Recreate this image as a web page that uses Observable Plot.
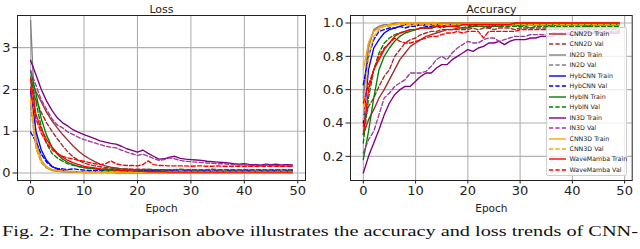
<!DOCTYPE html>
<html><head><meta charset="utf-8">
<script src="https://cdn.jsdelivr.net/npm/d3@7"></script>
<script src="https://cdn.jsdelivr.net/npm/@observablehq/plot@0.6"></script>
<style>
body{margin:0;background:#fff;}
#wrap{position:relative;width:640px;height:249px;overflow:hidden;font-family:"DejaVu Sans",sans-serif;background:#fff;}
#left,#right{position:absolute;top:0;}
#left{left:0px}
#right{left:320px}
#legend{position:absolute;left:546px;top:27px;width:81px;height:149px;box-sizing:border-box;background:rgba(255,255,255,0.8);border:1px solid #cfcfcf;border-radius:2px;}
.row{position:absolute;left:0;height:10px;width:80px;}
.row svg{position:absolute;left:1.5px;top:0;}
.row span{position:absolute;left:22.5px;top:1px;font-size:6.3px;line-height:8px;color:#222;white-space:nowrap;}
#caption{position:absolute;left:0;top:222px;}
</style>
</head><body>
<div id="wrap">
  <div id="left"></div>
  <div id="right"></div>
  <div id="legend"></div>
  <svg id="caption" width="640" height="27"></svg>
</div>
<script>
// ---------- data ----------
const epochs = d3.range(50);
const seriesNames = ["CNN2D Train","CNN2D Val","IN2D Train","IN2D Val","HybCNN Train","HybCNN Val","HybIN Train","HybIN Val","IN3D Train","IN3D Val","CNN3D Train","CNN3D Val","WaveMamba Train","WaveMamba Val"];
const xTicks = [0,10,20,30,40,50];
const lossTicks = [0,1,2,3];
const accTicks = [0.2,0.4,0.6,0.8,1.0];

// Loss
const lossCNN2DTrain = [2.25,1.95,1.70,1.45,1.25,1.08,0.92,0.78,0.64,0.52,
0.42,0.34,0.27,0.21,0.17,0.14,0.12,0.10,0.09,0.08,
0.07,0.07,0.06,0.06,0.05,0.05,0.05,0.04,0.04,0.04,
0.04,0.04,0.03,0.03,0.03,0.03,0.03,0.03,0.03,0.03,
0.03,0.03,0.03,0.02,0.02,0.02,0.02,0.02,0.02,0.02];
const lossCNN2DVal = [2.05,1.75,1.45,1.20,1.00,0.82,0.65,0.50,0.38,0.30,
0.24,0.20,0.17,0.15,0.13,0.12,0.11,0.10,0.10,0.09,
0.09,0.09,0.08,0.08,0.08,0.08,0.08,0.07,0.08,0.07,
0.07,0.07,0.07,0.07,0.07,0.07,0.07,0.07,0.07,0.07,
0.07,0.07,0.07,0.07,0.07,0.07,0.07,0.07,0.07,0.07];
const lossIN2DTrain = [3.65,0.85,0.30,0.12,0.06,0.04,0.03,0.02,0.02,0.02,
0.01,0.01,0.01,0.01,0.01,0.01,0.01,0.01,0.01,0.01,
0.01,0.01,0.01,0.01,0.01,0.01,0.01,0.01,0.01,0.01,
0.01,0.01,0.01,0.01,0.01,0.01,0.01,0.01,0.01,0.01,
0.01,0.01,0.01,0.01,0.01,0.01,0.01,0.01,0.01,0.01];
const lossIN2DVal = [1.60,0.60,0.25,0.12,0.08,0.06,0.05,0.04,0.04,0.03,
0.03,0.03,0.03,0.03,0.03,0.02,0.02,0.02,0.02,0.02,
0.02,0.02,0.02,0.02,0.02,0.02,0.02,0.02,0.02,0.02,
0.02,0.02,0.02,0.02,0.02,0.02,0.02,0.02,0.02,0.02,
0.02,0.02,0.02,0.02,0.02,0.02,0.02,0.02,0.02,0.02];
const lossHybCNNTrain = [1.95,1.00,0.55,0.30,0.16,0.09,0.06,0.04,0.03,0.03,
0.02,0.02,0.02,0.02,0.02,0.02,0.01,0.01,0.01,0.01,
0.01,0.01,0.01,0.01,0.01,0.01,0.01,0.01,0.01,0.01,
0.01,0.01,0.01,0.01,0.01,0.01,0.01,0.01,0.01,0.01,
0.01,0.01,0.01,0.01,0.01,0.01,0.01,0.01,0.01,0.01];
const lossHybCNNVal = [0.98,0.75,0.45,0.26,0.15,0.11,0.10,0.08,0.10,0.08,
0.07,0.06,0.06,0.06,0.05,0.05,0.06,0.05,0.05,0.04,
0.05,0.05,0.04,0.05,0.05,0.04,0.05,0.05,0.04,0.05,
0.05,0.04,0.05,0.05,0.04,0.05,0.04,0.05,0.05,0.04,
0.05,0.05,0.04,0.05,0.04,0.05,0.05,0.04,0.05,0.05];
const lossHybINTrain = [2.45,1.90,1.30,0.90,0.62,0.45,0.33,0.25,0.20,0.16,
0.13,0.11,0.10,0.08,0.07,0.06,0.05,0.05,0.04,0.04,
0.04,0.03,0.03,0.03,0.03,0.03,0.03,0.02,0.02,0.02,
0.02,0.02,0.02,0.02,0.02,0.02,0.02,0.02,0.02,0.02,
0.02,0.02,0.02,0.02,0.02,0.02,0.02,0.02,0.02,0.02];
const lossHybINVal = [2.30,1.70,1.10,0.70,0.47,0.36,0.28,0.22,0.18,0.15,
0.13,0.12,0.11,0.10,0.10,0.09,0.09,0.09,0.08,0.08,
0.08,0.08,0.09,0.08,0.08,0.08,0.08,0.08,0.09,0.08,
0.08,0.08,0.08,0.08,0.09,0.08,0.08,0.08,0.08,0.08,
0.08,0.08,0.08,0.08,0.08,0.08,0.08,0.08,0.08,0.08];
const lossIN3DTrain = [2.70,2.35,2.00,1.72,1.50,1.32,1.20,1.12,1.03,0.97,
0.92,0.87,0.82,0.77,0.74,0.71,0.69,0.64,0.58,0.54,
0.50,0.55,0.47,0.40,0.33,0.34,0.38,0.40,0.35,0.33,
0.32,0.31,0.30,0.28,0.27,0.26,0.25,0.24,0.22,0.21,
0.22,0.20,0.20,0.19,0.21,0.20,0.21,0.19,0.20,0.19];
const lossIN3DVal = [2.45,2.10,1.75,1.52,1.30,1.15,1.08,0.98,0.92,0.85,
0.80,0.76,0.72,0.68,0.64,0.62,0.60,0.55,0.50,0.46,
0.42,0.45,0.40,0.35,0.30,0.32,0.36,0.34,0.30,0.28,
0.27,0.26,0.25,0.24,0.23,0.22,0.22,0.21,0.20,0.19,
0.20,0.18,0.18,0.17,0.19,0.18,0.18,0.17,0.17,0.16];
const lossCNN3DTrain = [1.80,0.70,0.30,0.15,0.08,0.05,0.04,0.03,0.02,0.02,
0.01,0.01,0.01,0.01,0.01,0.01,0.01,0.01,0.01,0.01,
0.01,0.01,0.01,0.01,0.01,0.01,0.01,0.01,0.01,0.01,
0.01,0.01,0.01,0.01,0.01,0.01,0.01,0.01,0.01,0.01,
0.01,0.01,0.01,0.01,0.01,0.01,0.01,0.01,0.01,0.01];
const lossCNN3DVal = [1.75,0.60,0.26,0.13,0.08,0.06,0.05,0.04,0.04,0.03,
0.03,0.03,0.03,0.03,0.03,0.03,0.03,0.03,0.03,0.03,
0.03,0.03,0.03,0.03,0.03,0.03,0.03,0.03,0.03,0.03,
0.03,0.03,0.03,0.03,0.03,0.03,0.03,0.03,0.03,0.03,
0.03,0.03,0.03,0.03,0.03,0.03,0.03,0.03,0.03,0.03];
const lossWaveTrain = [2.25,1.40,1.05,0.80,0.62,0.48,0.38,0.30,0.24,0.20,
0.16,0.14,0.12,0.10,0.09,0.08,0.07,0.06,0.05,0.05,
0.04,0.04,0.03,0.03,0.03,0.03,0.02,0.02,0.02,0.02,
0.02,0.02,0.02,0.02,0.02,0.02,0.02,0.02,0.02,0.02,
0.02,0.02,0.02,0.02,0.02,0.02,0.02,0.02,0.02,0.02];
const lossWaveVal = [2.00,1.30,0.95,0.72,0.56,0.46,0.40,0.36,0.33,0.30,
0.28,0.25,0.22,0.20,0.22,0.29,0.22,0.19,0.18,0.18,
0.17,0.20,0.29,0.20,0.18,0.18,0.17,0.17,0.17,0.17,
0.16,0.17,0.17,0.16,0.16,0.17,0.16,0.16,0.16,0.16,
0.16,0.16,0.16,0.16,0.16,0.16,0.16,0.16,0.16,0.16];

// Accuracy
const accCNN2DTrain = [0.33,0.42,0.48,0.55,0.60,0.66,0.72,0.78,0.82,0.86,
0.88,0.90,0.92,0.93,0.94,0.95,0.96,0.96,0.97,0.97,
0.97,0.98,0.98,0.98,0.98,0.98,0.98,0.99,0.99,0.99,
0.99,0.99,0.99,0.99,0.99,0.99,0.99,0.99,0.99,0.99,
0.99,0.99,0.99,0.99,0.99,0.99,0.99,0.99,0.99,0.99];
const accCNN2DVal = [0.38,0.50,0.55,0.62,0.68,0.72,0.80,0.84,0.88,0.90,
0.91,0.93,0.94,0.95,0.95,0.96,0.96,0.96,0.96,0.96,
0.96,0.97,0.96,0.97,0.97,0.96,0.97,0.97,0.97,0.96,
0.97,0.97,0.97,0.97,0.97,0.97,0.97,0.97,0.97,0.97,
0.97,0.97,0.97,0.97,0.97,0.97,0.97,0.97,0.97,0.97];
const accIN2DTrain = [0.55,0.85,0.96,0.98,0.99,0.99,1.00,1.00,1.00,1.00,
1.00,1.00,1.00,1.00,1.00,1.00,1.00,1.00,1.00,1.00,
1.00,1.00,1.00,1.00,1.00,1.00,1.00,1.00,1.00,1.00,
1.00,1.00,1.00,1.00,1.00,1.00,1.00,1.00,1.00,1.00,
1.00,1.00,1.00,1.00,1.00,1.00,1.00,1.00,1.00,1.00];
const accIN2DVal = [0.58,0.88,0.95,0.98,0.99,0.99,0.99,1.00,1.00,1.00,
0.99,1.00,1.00,1.00,1.00,1.00,1.00,1.00,1.00,1.00,
1.00,1.00,1.00,1.00,1.00,1.00,1.00,1.00,1.00,1.00,
1.00,1.00,1.00,1.00,1.00,1.00,1.00,1.00,1.00,1.00,
1.00,1.00,1.00,1.00,1.00,1.00,1.00,1.00,1.00,1.00];
const accHybCNNTrain = [0.40,0.72,0.85,0.90,0.94,0.96,0.97,0.98,0.99,0.99,
0.99,0.99,0.99,0.99,0.99,1.00,1.00,1.00,1.00,1.00,
1.00,1.00,1.00,1.00,1.00,1.00,1.00,1.00,1.00,1.00,
1.00,1.00,1.00,1.00,1.00,1.00,1.00,1.00,1.00,1.00,
1.00,1.00,1.00,1.00,1.00,1.00,1.00,1.00,1.00,1.00];
const accHybCNNVal = [0.63,0.80,0.90,0.95,0.96,0.97,0.97,0.98,0.97,0.98,
0.98,0.99,0.98,0.98,0.99,0.98,0.99,0.99,0.98,0.99,
0.99,0.98,0.99,0.99,0.99,0.98,0.99,0.99,0.99,0.99,
0.98,0.99,0.99,0.99,0.99,0.99,0.98,0.99,0.99,0.99,
0.99,0.99,0.99,0.98,0.99,0.99,0.99,0.99,0.99,0.99];
const accHybINTrain = [0.18,0.35,0.55,0.72,0.80,0.85,0.89,0.92,0.94,0.95,
0.96,0.97,0.97,0.97,0.98,0.98,0.98,0.98,0.99,0.99,
0.99,0.99,0.99,0.99,0.99,0.99,0.99,0.99,0.99,0.99,
0.99,0.99,0.99,0.99,0.99,0.99,0.99,0.99,0.99,0.99,
0.99,0.99,0.99,0.99,0.99,0.99,0.99,0.99,0.99,0.99];
const accHybINVal = [0.28,0.55,0.72,0.82,0.88,0.91,0.93,0.94,0.95,0.96,
0.96,0.97,0.97,0.97,0.98,0.97,0.98,0.98,0.98,0.97,
0.98,0.98,0.98,0.98,0.97,0.98,0.98,0.98,0.98,0.98,
0.98,0.98,0.97,0.98,0.98,0.98,0.98,0.98,0.98,0.98,
0.98,0.98,0.98,0.98,0.98,0.98,0.98,0.98,0.98,0.98];
const accIN3DTrain = [0.10,0.20,0.28,0.36,0.45,0.52,0.57,0.60,0.62,0.62,
0.65,0.68,0.70,0.70,0.73,0.75,0.75,0.78,0.80,0.82,
0.84,0.83,0.85,0.86,0.88,0.88,0.89,0.87,0.89,0.90,
0.90,0.90,0.91,0.91,0.92,0.92,0.92,0.93,0.93,0.93,
0.93,0.93,0.94,0.94,0.94,0.94,0.94,0.94,0.94,0.94];
const accIN3DVal = [0.22,0.30,0.35,0.45,0.55,0.58,0.62,0.64,0.66,0.70,
0.70,0.70,0.71,0.74,0.78,0.80,0.78,0.82,0.85,0.87,
0.89,0.88,0.88,0.90,0.91,0.91,0.89,0.90,0.91,0.92,
0.92,0.92,0.93,0.93,0.93,0.93,0.94,0.94,0.94,0.94,
0.94,0.95,0.95,0.95,0.94,0.95,0.95,0.95,0.95,0.95];
const accCNN3DTrain = [0.72,0.88,0.95,0.97,0.98,0.99,0.99,1.00,1.00,1.00,
1.00,1.00,1.00,1.00,1.00,1.00,1.00,1.00,1.00,1.00,
1.00,1.00,1.00,1.00,1.00,1.00,1.00,1.00,1.00,1.00,
1.00,1.00,1.00,1.00,1.00,1.00,1.00,1.00,1.00,1.00,
1.00,1.00,1.00,1.00,1.00,1.00,1.00,1.00,1.00,1.00];
const accCNN3DVal = [0.42,0.80,0.92,0.96,0.98,0.98,0.99,0.99,0.99,0.99,
0.99,0.99,0.99,0.99,0.99,0.99,0.99,0.99,0.99,0.99,
0.99,0.99,0.99,0.99,0.99,0.99,0.99,0.99,0.99,0.99,
0.99,0.99,0.99,0.99,0.99,0.99,0.99,0.99,0.99,0.99,
0.99,0.99,0.99,0.99,0.99,0.99,0.99,0.99,0.99,0.99];
const accWaveTrain = [0.33,0.60,0.72,0.78,0.84,0.88,0.92,0.94,0.95,0.96,
0.96,0.97,0.97,0.97,0.98,0.98,0.98,0.98,0.98,0.99,
0.99,0.99,0.99,0.99,0.99,0.99,0.99,0.99,0.99,1.00,
1.00,1.00,1.00,1.00,1.00,1.00,1.00,1.00,1.00,1.00,
1.00,1.00,1.00,1.00,1.00,1.00,1.00,1.00,1.00,1.00];
const accWaveVal = [0.52,0.63,0.72,0.80,0.85,0.88,0.91,0.89,0.88,0.88,
0.89,0.90,0.91,0.92,0.92,0.93,0.94,0.94,0.95,0.94,
0.95,0.95,0.95,0.91,0.95,0.95,0.95,0.95,0.95,0.95,
0.96,0.96,0.96,0.96,0.96,0.96,0.96,0.96,0.96,0.96,
0.96,0.96,0.96,0.96,0.96,0.96,0.96,0.96,0.96,0.96];

const lossValues = [lossCNN2DTrain,lossCNN2DVal,lossIN2DTrain,lossIN2DVal,lossHybCNNTrain,lossHybCNNVal,lossHybINTrain,lossHybINVal,lossIN3DTrain,lossIN3DVal,lossCNN3DTrain,lossCNN3DVal,lossWaveTrain,lossWaveVal];
const accValues = [accCNN2DTrain,accCNN2DVal,accIN2DTrain,accIN2DVal,accHybCNNTrain,accHybCNNVal,accHybINTrain,accHybINVal,accIN3DTrain,accIN3DVal,accCNN3DTrain,accCNN3DVal,accWaveTrain,accWaveVal];

// ---------- styles ----------
const seriesColors = ["#a52a2a","#a52a2a","#808080","#808080","#0000ff","#0000ff","#008000","#008000","#800080","#9a3c9a","#ffa500","#ffa500","#ff0000","#ff0000"];
const dashOf = name => name.endsWith("Val") ? "4.2,2.2" : null;
const LW = 1.35;

function table(values) {
  return seriesNames.map((name, s) => epochs.map((e, i) => ({series: name, epoch: e, value: values[s][i]})));
}

function panel({values, yDomain, yTicks, yFormat, title, width, marginLeft, marginRight}) {
  const rows = table(values);
  const lines = rows.map((data, s) => Plot.line(data, {
    x: "epoch", y: "value",
    stroke: seriesColors[s], strokeWidth: LW,
    strokeDasharray: dashOf(seriesNames[s]),
    strokeLinejoin: "round"
  }));
  return Plot.plot({
    width, height: 222,
    marginLeft, marginRight, marginTop: 15, marginBottom: 42,
    x: {domain: [-2.45, 51.45]},
    y: {domain: yDomain},
    style: {fontFamily: "DejaVu Sans", fontSize: "13px", color: "#222", background: "transparent", overflow: "visible"},
    marks: [
      Plot.gridX(xTicks, {stroke: "#b0b0b0", strokeOpacity: 1, strokeWidth: 1.1}),
      Plot.gridY(yTicks, {stroke: "#b0b0b0", strokeOpacity: 1, strokeWidth: 1.1}),
      ...lines,
      Plot.frame({stroke: "#222", strokeWidth: 1}),
      Plot.axisX(xTicks, {tickSize: 3.5, tickPadding: 2, fontSize: 13, label: null, stroke: "#222"}),
      Plot.axisY(yTicks, {tickSize: 4.5, tickPadding: 2.5, fontSize: 13, label: null, tickFormat: yFormat, stroke: "#222"}),
      Plot.text(["Epoch"], {text: d => d, frameAnchor: "bottom", dy: 31, fontSize: 10.5, fill: "#222"}),
      Plot.text([title], {text: d => d, frameAnchor: "top", dy: -10, fontSize: 11, fill: "#222"})
    ]
  });
}

document.getElementById("left").append(panel({
  values: lossValues, yDomain: [-0.18, 3.77], yTicks: lossTicks, yFormat: d3.format("d"),
  title: "Loss", width: 320, marginLeft: 17, marginRight: 15
}));
document.getElementById("right").append(panel({
  values: accValues, yDomain: [0.055, 1.045], yTicks: accTicks, yFormat: d3.format(".1f"),
  title: "Accuracy", width: 320, marginLeft: 30, marginRight: 8.3
}));

// legend
const legend = document.getElementById("legend");
seriesNames.forEach((name, s) => {
  const row = document.createElement("div");
  row.className = "row";
  row.style.top = (1 + s * 10.45) + "px";
  const dash = dashOf(name);
  row.innerHTML = `<svg width="18" height="10"><line x1="0" x2="17" y1="5" y2="5" stroke="${seriesColors[s]}" stroke-width="1.4" ${dash ? `stroke-dasharray="${dash}"` : ""}/></svg><span>${name}</span>`;
  legend.append(row);
});

// caption
const cap = d3.select("#caption");
cap.append("text")
  .attr("x", 2).attr("y", 14)
  .attr("textLength", 636).attr("lengthAdjust", "spacingAndGlyphs")
  .style("font-family", "'Liberation Serif', serif").style("font-size", "15.5px").attr("fill", "#111")
  .text("Fig. 2: The comparison above illustrates the accuracy and loss trends of CNN-");
</script>
</body></html>
